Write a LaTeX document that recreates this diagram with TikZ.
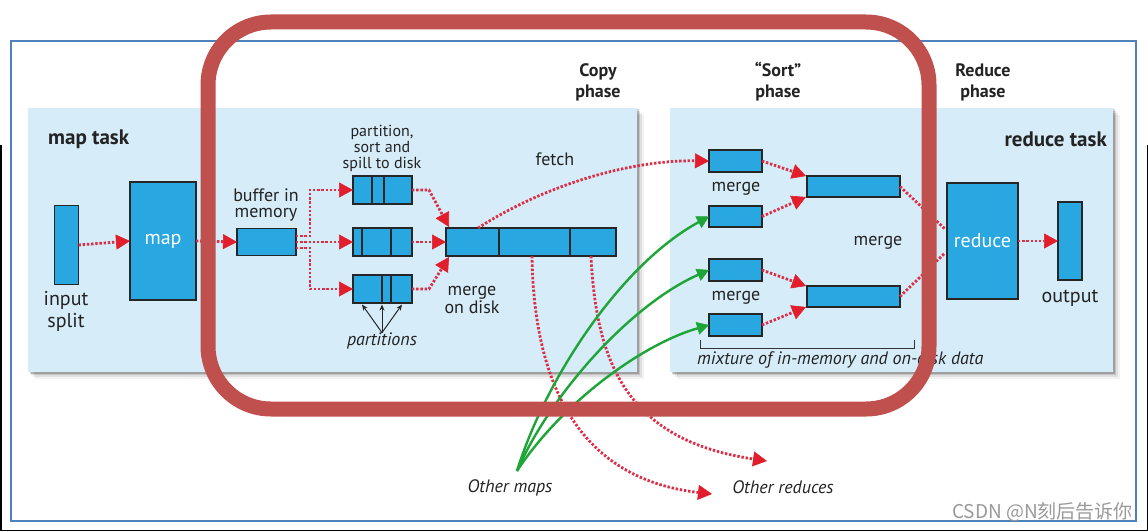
\documentclass[tikz,border=0pt]{standalone}
\usepackage{fontspec}
\setmainfont{PT Sans}
\newfontfamily\cjkfont{Noto Sans CJK SC}
\usetikzlibrary{arrows.meta,calc}
\definecolor{panelblue}{RGB}{214,236,248}
\definecolor{boxblue}{RGB}{40,167,224}
\definecolor{arrred}{RGB}{226,30,45}
\definecolor{dotred}{RGB}{222,45,70}
\definecolor{greenarr}{RGB}{30,165,55}
\definecolor{framered}{RGB}{192,80,77}
\definecolor{frameblue}{RGB}{79,129,189}
\definecolor{txt}{RGB}{35,35,35}
\begin{document}
\begin{tikzpicture}[x=1pt,y=-1pt,
  box/.style={draw=black!85, line width=1.6pt, fill=boxblue, inner sep=0pt, outer sep=0pt},
  rarrow/.style={draw=dotred, line width=2.8pt, dash pattern=on 2.4pt off 1.8pt,
    -{Triangle[length=14pt,width=15pt,color=arrred,fill=arrred,line width=0.6pt]}},
  rline/.style={draw=dotred, line width=2.8pt, dash pattern=on 2.4pt off 1.8pt},
  garrow/.style={draw=greenarr, line width=2.4pt,
    -{Triangle[length=12pt,width=13pt,line width=0.5pt]}},
  parr/.style={draw=black!85, line width=1pt, -{Stealth[length=6pt,width=5pt]}},
  lbl/.style={text=txt, font=\fontsize{18}{16}\selectfont, align=center, inner sep=0pt},
  lblsmall/.style={text=txt, font=\fontsize{16}{16}\selectfont, align=center, inner sep=0pt},
  lblbig/.style={text=txt, font=\fontsize{20}{22}\selectfont, align=center, inner sep=0pt},
  ital/.style={text=txt, font=\fontsize{18}{18}\selectfont\itshape, inner sep=0pt},
  ttl/.style={text=txt, font=\fontsize{18}{21}\selectfont\bfseries, align=center, inner sep=0pt},
  ttlbig/.style={text=txt, font=\fontsize{21}{21}\selectfont\bfseries, inner sep=0pt},
  divider/.style={draw=black!85, line width=1.6pt},
  shadowlayer/.style={fill=black, opacity=#1}
]
\useasboundingbox (0,0) rectangle (1148,532);
\fill[white] (0,0) rectangle (1148,532);

% outer frames
\draw[black, line width=1.5pt] (0.75,145) -- (0.75,530.5) -- (1147.25,530.5) -- (1147.25,145);
\draw[frameblue, line width=2pt] (11,41) rectangle (1136,521);

% panels with shadows
\foreach \o/\a in {7/0.05,5/0.08,3/0.12,1.5/0.18}{
  \fill[shadowlayer=\a] (28+\o,108+\o) rectangle (637+\o,372+\o);
  \fill[shadowlayer=\a] (670+\o,108+\o) rectangle (1113+\o,372+\o);
}
\fill[panelblue] (28,108) rectangle (637,372);
\fill[panelblue] (670,108) rectangle (1113,372);

% titles
\node[ttlbig, anchor=west] (mtask) at (48,139) {map task};
\node[ttlbig, anchor=east] (rtask) at (1107,139) {reduce task};
\node[ttl] (copyt) at (598,82) {Copy\\phase};
\node[ttl] (sortt) at (778,82) {“Sort”\\phase};
\node[ttl] (redt) at (983,82) {Reduce\\phase};

% map side
\node[box, minimum width=24pt, minimum height=79pt] (inp) at (66.5,245) {};
\node[lblbig] (inplbl) at (66,311) {input\\split};
\node[box, minimum width=66pt, minimum height=118pt, text=white, font=\fontsize{20}{20}\selectfont] (map) at (163,241) {map};
\node[box, minimum width=59pt, minimum height=27pt] (buf) at (266.5,242) {};
\node[lbl] (buflbl) at (266,205) {buffer in\\memory};

\node[box, minimum width=59pt, minimum height=28pt] (s1) at (382.5,190) {};
\node[box, minimum width=59pt, minimum height=28pt] (s2) at (382.5,242) {};
\node[box, minimum width=59pt, minimum height=28pt] (s3) at (382.5,289) {};
\draw[divider] (372,176) -- (372,204);
\draw[divider] (384,176) -- (384,204);
\draw[divider] (362,228) -- (362,256);
\draw[divider] (391,228) -- (391,256);
\draw[divider] (382,275) -- (382,303);
\draw[divider] (391,275) -- (391,303);
\node[lblsmall] (pslbl) at (382,148) {partition,\\sort and\\spill to disk};

\node[box, minimum width=170pt, minimum height=28pt] (mf) at (531,242) {};
\draw[divider] (499,228) -- (499,256);
\draw[divider] (570,228) -- (570,256);
\node[lbl] (mdlbl) at (472,300) {merge\\on disk};
\node[ital] (partlbl) at (382,341) {partitions};
\node[lbl] (fetchlbl) at (555,159) {fetch};

% map side arrows
\draw[rarrow] (inp.east) -- (map.west);
\draw[rarrow] (map.east) -- (buf.west);
\draw[rarrow] ($(buf.east)+(0,-6)$) -- ++(14,0) |- (s1.west);
\draw[rarrow] (buf.east) -- (s2.west);
\draw[rarrow] ($(buf.east)+(0,6)$) -- ++(14,0) |- (s3.west);
\draw[rarrow] (s1.east) -- ++(17,0) -- ($(mf.north west)+(3,-1)$);
\draw[rarrow] (s2.east) -- (mf.west);
\draw[rarrow] (s3.east) -- ++(17,0) -- ($(mf.south west)+(3,1)$);
\draw[parr] (partlbl.north) -- ($(s3.south west)+(9,1.5)$);
\draw[parr] (partlbl.north) -- ($(s3.south)+(-0.5,1.5)$);
\draw[parr] (partlbl.north) -- ($(s3.south east)+(-10,1.5)$);

% sort side
\node[box, minimum width=53pt, minimum height=22pt] (m1) at (735.5,161) {};
\node[box, minimum width=53pt, minimum height=21pt] (m2) at (735.5,216.5) {};
\node[box, minimum width=53pt, minimum height=22pt] (m3) at (735.5,270) {};
\node[box, minimum width=53pt, minimum height=22pt] (m4) at (735.5,325) {};
\node[box, minimum width=93pt, minimum height=21pt] (bA) at (853.5,186.5) {};
\node[box, minimum width=93pt, minimum height=21pt] (bB) at (853.5,296.5) {};
\node[lbl] (mg1) at (736,189) {merge};
\node[lbl] (mg2) at (736,298) {merge};
\node[lbl] (mg3) at (878,243) {merge};

\draw[rarrow] (m1.east) -- ($(bA.north west)+(-1,0)$);
\draw[rarrow] (m2.east) -- ($(bA.south west)+(-1,0)$);
\draw[rarrow] (m3.east) -- ($(bB.north west)+(-1,0)$);
\draw[rarrow] (m4.east) -- ($(bB.south west)+(-1,0)$);

% reduce side
\node[box, minimum width=71pt, minimum height=116pt, text=white, font=\fontsize{20}{20}\selectfont] (red) at (982.5,241) {reduce};
\node[box, minimum width=24pt, minimum height=78pt] (out) at (1070,241) {};
\node[lblbig] (outlbl) at (1070,298) {output};
\draw[rarrow] (red.east) -- (out.west);
\coordinate (ra) at ($(red.west)+(-2,-12)$);
\coordinate (rb) at ($(red.west)+(-2,12)$);
\draw[rline] (bA.east) -- (ra);
\draw[rline] (bB.east) -- (rb);

% bracket
\draw[black!80, line width=1pt] (700,340) -- (700,348) -- (914,348) -- (914,340);
\node[ital, anchor=west] (mix) at (697,360) {mixture of in-memory and on-disk data};

% fetch and other reduces
\node[ital] (omaps) at (510,488) {Other maps};
\node[ital] (oreds) at (783,487) {Other reduces};
\coordinate (orA) at (712,494);
\coordinate (orB) at (767,461);
\coordinate (om) at (517,471);
\draw[rarrow] ($(mf.north west)+(32,0)$) .. controls (545,185) and (630,160) .. (m1.west);
\draw[rarrow] ($(mf.south west)+(86,0)$) .. controls (534,400) and (590,480) .. (orA);
\draw[rarrow] ($(mf.south west)+(145,0)$) .. controls (596,360) and (625,440) .. (orB);

% green arrows from other maps
\draw[garrow] (om) .. controls (545,380) and (620,265) .. (m2.west);
\draw[garrow] (om) .. controls (550,395) and (630,305) .. (m3.west);
\draw[garrow] (om) .. controls (560,405) and (640,345) .. (m4.west);

% red highlight frame
\draw[framered, line width=15pt, rounded corners=63pt] (208,22) rectangle (929,409);

% watermark
\node[anchor=east, text=black!40, font=\cjkfont\fontsize{19}{19}\selectfont, inner sep=0pt] (wm) at (1133,512) {CSDN @N刻后告诉你};
\end{tikzpicture}
\end{document}
